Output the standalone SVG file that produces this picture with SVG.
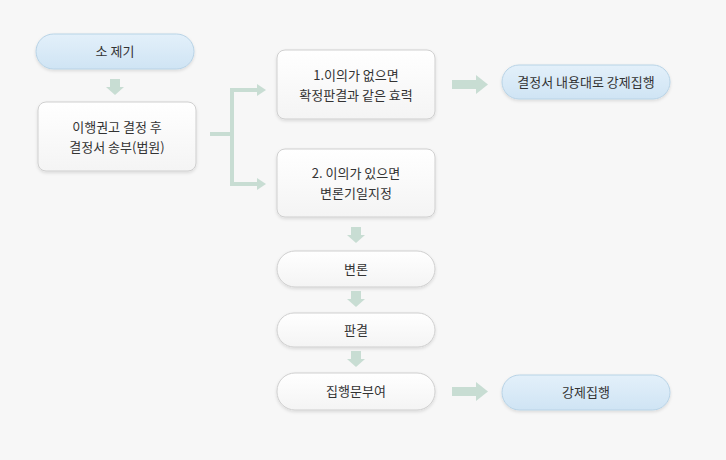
<svg xmlns="http://www.w3.org/2000/svg" width="726" height="460" viewBox="0 0 726 460">
<defs>
<linearGradient id="blue" x1="0" y1="0" x2="0" y2="1"><stop offset="0" stop-color="#e3f0fa"/><stop offset="1" stop-color="#cfe4f4"/></linearGradient>
<linearGradient id="white" x1="0" y1="0" x2="0" y2="1"><stop offset="0" stop-color="#ffffff"/><stop offset="1" stop-color="#f4f4f4"/></linearGradient>
<filter id="sh" x="-10%" y="-10%" width="120%" height="130%"><feDropShadow dx="0" dy="1.5" stdDeviation="1.5" flood-color="#000" flood-opacity="0.12"/></filter>
</defs>
<style>
.box{fill:url(#white);stroke:#cfcfcf;stroke-width:1;filter:url(#sh)}
.pill{fill:url(#blue);stroke:#b8d3e6;stroke-width:1;filter:url(#sh)}
text{font-family:"Noto Sans CJK KR","Noto Sans",sans-serif;font-size:13px;fill:#333;text-anchor:middle}
.ln{stroke:#c8ddd3;stroke-width:4;fill:none}
.ah{fill:#c8ddd3}
</style>
<rect width="726" height="460" fill="#f7f7f7"/>
<g id="n1"><rect class="pill" x="36" y="34" width="158" height="35" rx="17.5"/><text x="115" y="56">소 제기</text></g>
<g id="n2"><rect class="box" x="38" y="102" width="158" height="69" rx="8"/><text x="117" y="132">이행권고 결정 후</text><text x="117" y="152">결정서 송부(법원)</text></g>
<g id="n3"><rect class="box" x="277" y="50" width="158" height="69" rx="8"/><text x="356" y="80">1.이의가 없으면</text><text x="356" y="100">확정판결과 같은 효력</text></g>
<g id="n4"><rect class="pill" x="502" y="65" width="168" height="34" rx="17"/><text x="586" y="87">결정서 내용대로 강제집행</text></g>
<g id="n5"><rect class="box" x="277" y="149" width="158" height="68" rx="8"/><text x="356" y="178">2. 이의가 있으면</text><text x="356" y="198">변론기일지정</text></g>
<g id="n6"><rect class="box" x="277" y="251" width="158" height="36" rx="18"/><text x="356" y="274">변론</text></g>
<g id="n7"><rect class="box" x="277" y="313" width="158" height="34" rx="17"/><text x="356" y="335">판결</text></g>
<g id="n8"><rect class="box" x="277" y="373" width="158" height="37" rx="18"/><text x="356" y="396">집행문부여</text></g>
<g id="n9"><rect class="pill" x="502" y="375" width="168" height="35" rx="17.5"/><text x="586" y="397">강제집행</text></g>
<g id="connectors">
<rect class="ah" x="110" y="79" width="10" height="8"/><polygon class="ah" points="106,87 124,87 115,95"/>
<path class="ln" d="M210,134 H232 M232,90 V184 M230,90 H258 M230,184 H258"/>
<polygon class="ah" points="257,84 266,90 257,96"/><polygon class="ah" points="257,178 266,184 257,190"/>
<rect class="ah" x="351" y="227" width="10" height="8"/><polygon class="ah" points="347,235 365,235 356,243"/>
<rect class="ah" x="351" y="291" width="10" height="8"/><polygon class="ah" points="347,299 365,299 356,307"/>
<rect class="ah" x="351" y="351" width="10" height="8"/><polygon class="ah" points="347,359 365,359 356,367"/>
<rect class="ah" x="452" y="80" width="24" height="9"/><polygon class="ah" points="476,75 488,84.5 476,94"/>
<rect class="ah" x="452" y="387" width="24" height="9"/><polygon class="ah" points="476,382 488,391.5 476,401"/>
</g>
</svg>
